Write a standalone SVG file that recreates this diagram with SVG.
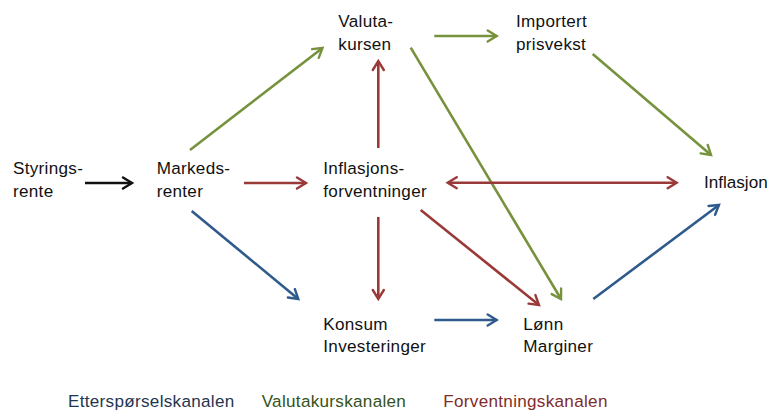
<svg xmlns="http://www.w3.org/2000/svg" width="769" height="410" viewBox="0 0 769 410">
<style>
text{font-family:"Liberation Sans",Arial,sans-serif;font-size:17.1px;letter-spacing:0.3px;fill:#111}
.c{fill:none;stroke-width:2.6}
.k{stroke:#111}
.r{stroke:#9A3A38}
.g{stroke:#76923C}
.b{stroke:#2F5A8C}
</style>
<defs>
<marker id="mk" viewBox="0 0 14 14" refX="11" refY="7" markerWidth="14" markerHeight="14" markerUnits="userSpaceOnUse" orient="auto-start-reverse"><path d="M2,1.5 L11,7 L2,12.5" fill="none" stroke="#111" stroke-width="2.4" stroke-linecap="round"/></marker>
<marker id="mr" viewBox="0 0 14 14" refX="11" refY="7" markerWidth="14" markerHeight="14" markerUnits="userSpaceOnUse" orient="auto-start-reverse"><path d="M2,1.5 L11,7 L2,12.5" fill="none" stroke="#9A3A38" stroke-width="2.4" stroke-linecap="round"/></marker>
<marker id="mg" viewBox="0 0 14 14" refX="11" refY="7" markerWidth="14" markerHeight="14" markerUnits="userSpaceOnUse" orient="auto-start-reverse"><path d="M2,1.5 L11,7 L2,12.5" fill="none" stroke="#76923C" stroke-width="2.4" stroke-linecap="round"/></marker>
<marker id="mb" viewBox="0 0 14 14" refX="11" refY="7" markerWidth="14" markerHeight="14" markerUnits="userSpaceOnUse" orient="auto-start-reverse"><path d="M2,1.5 L11,7 L2,12.5" fill="none" stroke="#2F5A8C" stroke-width="2.4" stroke-linecap="round"/></marker>
</defs>
<rect width="769" height="410" fill="#fff"/>
<g id="connectors">
<line class="c k" x1="85" y1="183" x2="132" y2="183" marker-end="url(#mk)"/>
<line class="c r" x1="244" y1="183" x2="306" y2="183" marker-end="url(#mr)"/>
<line class="c g" x1="190" y1="150" x2="322.5" y2="48" marker-end="url(#mg)"/>
<line class="c r" x1="378.3" y1="148" x2="378.3" y2="61" marker-end="url(#mr)"/>
<line class="c g" x1="434.3" y1="36" x2="496.7" y2="36" marker-end="url(#mg)"/>
<line class="c g" x1="592.7" y1="54" x2="711" y2="155" marker-end="url(#mg)"/>
<line class="c g" x1="410.7" y1="47.7" x2="561" y2="299" marker-end="url(#mg)"/>
<line class="c r" x1="447.7" y1="182.7" x2="676.7" y2="182.7" marker-start="url(#mr)" marker-end="url(#mr)"/>
<line class="c r" x1="378.3" y1="217" x2="378.3" y2="299" marker-end="url(#mr)"/>
<line class="c r" x1="420.7" y1="210" x2="539" y2="305" marker-end="url(#mr)"/>
<line class="c b" x1="191.7" y1="211" x2="298.3" y2="299" marker-end="url(#mb)"/>
<line class="c b" x1="434.3" y1="320" x2="496.7" y2="320" marker-end="url(#mb)"/>
<line class="c b" x1="593.3" y1="299" x2="719" y2="205" marker-end="url(#mb)"/>
</g>
<g id="styringsrente"><text x="13" y="174">Styrings-</text><text x="13" y="197">rente</text></g>
<g id="markedsrenter"><text x="156.7" y="174">Markeds-</text><text x="156.7" y="197">renter</text></g>
<g id="inflasjonsforventninger"><text x="323.3" y="174">Inflasjons-</text><text x="323.3" y="197">forventninger</text></g>
<g id="valutakursen"><text x="338.3" y="27">Valuta-</text><text x="338.3" y="49.5">kursen</text></g>
<g id="importert"><text x="516" y="27">Importert</text><text x="516" y="49.5">prisvekst</text></g>
<g id="inflasjon"><text x="704" y="187.5" style="letter-spacing:0">Inflasjon</text></g>
<g id="konsum"><text x="323.3" y="330">Konsum</text><text x="323.3" y="352">Investeringer</text></g>
<g id="lonn"><text x="523.3" y="330">Lønn</text><text x="523.3" y="352">Marginer</text></g>
<g id="legend">
<text x="68" y="407" style="fill:#1F3550">Etterspørselskanalen</text>
<text x="261.7" y="407" style="fill:#34521A">Valutakurskanalen</text>
<text x="443.3" y="407" style="fill:#7F2C2A">Forventningskanalen</text>
</g>
</svg>
